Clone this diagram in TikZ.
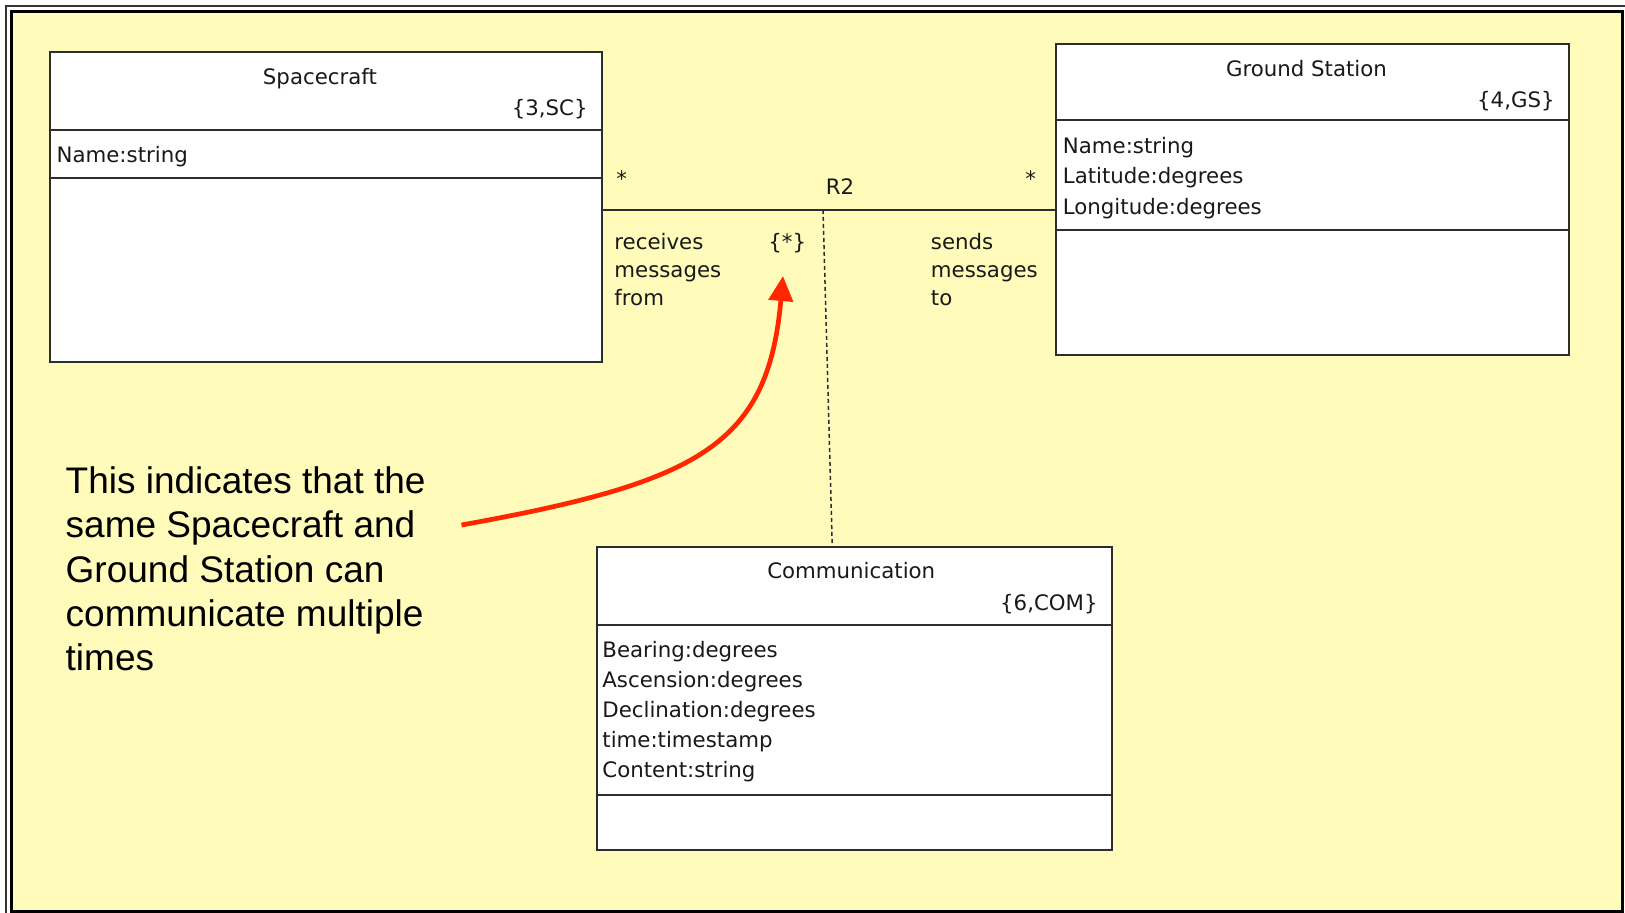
\documentclass[tikz,border=0pt]{standalone}
\usepackage{fontspec}
\setmainfont{DejaVu Sans}
\newfontfamily\notefont{Liberation Sans}
\usetikzlibrary{calc,arrows.meta}

\definecolor{paper}{RGB}{255,251,186}
\definecolor{boxline}{RGB}{45,45,45}
\definecolor{notered}{RGB}{255,38,0}

\tikzset{
  classbox/.style={rectangle, draw=boxline, line width=1pt, fill=white, inner sep=0pt},
  umltext/.style={inner sep=0pt, text=black!90, font=\fontsize{10.65}{15}\selectfont},
  classname/.style={umltext, anchor=base},
  keyletters/.style={umltext, anchor=base east},
  attr/.style={umltext, anchor=base west},
  sepline/.style={draw=boxline, line width=1pt},
  assocline/.style={draw=boxline, line width=1pt},
  linkline/.style={draw=boxline, line width=0.75pt, dash pattern=on 2pt off 1.5pt},
  notetext/.style={inner sep=0pt, align=left, font=\notefont\fontsize{18.5}{22.15}\selectfont},
  notearrow/.style={draw=notered, line width=2.35pt, -{Triangle[length=12.5pt,width=12pt]}}
}

\begin{document}
\begin{tikzpicture}[x=0.5pt, y=-0.5pt]
    \useasboundingbox (0,0) rectangle (1625,913);

    % Frame
    \draw[line width=1pt, black!80] (6,6) rectangle (1660,950);
    \fill[paper] (11.7,11.7) rectangle (1622.3,911.5);
    \draw[line width=1.65pt] (11.7,11.7) rectangle (1622.3,911.5);

    % Classes
    \node (sc) [classbox, minimum width=276.15pt, minimum height=154.85pt] at (325.9,206.9) {};
    \node (gs) [classbox, minimum width=256.5pt, minimum height=155.75pt] at (1312.5,199.75) {};
    \node (com) [classbox, minimum width=257.75pt, minimum height=151.75pt] at (854.25,698.25) {};

    % Compartments
    \draw[sepline] ($(sc.north west)+(0,79)$) -- ($(sc.north east)+(0,79)$);
    \draw[sepline] ($(sc.north west)+(0,127)$) -- ($(sc.north east)+(0,127)$);
    \draw[sepline] ($(gs.north west)+(0,77)$) -- ($(gs.north east)+(0,77)$);
    \draw[sepline] ($(gs.north west)+(0,187.5)$) -- ($(gs.north east)+(0,187.5)$);
    \draw[sepline] ($(com.north west)+(0,79.5)$) -- ($(com.north east)+(0,79.5)$);
    \draw[sepline] ($(com.north west)+(0,249.5)$) -- ($(com.north east)+(0,249.5)$);

    % Class headers
    \node (scname) [classname] at ($(sc.north)+(-6,33.3)$) {Spacecraft};
    \node (sckey) [keyletters] at ($(sc.north east)+(-15,64.5)$) {\{3,SC\}};
    \node (gsname) [classname] at ($(gs.north)+(-6,33.3)$) {Ground Station};
    \node (gskey) [keyletters] at ($(gs.north east)+(-15,64.5)$) {\{4,GS\}};
    \node (comname) [classname] at ($(com.north)+(-3,33.3)$) {Communication};
    \node (comkey) [keyletters] at ($(com.north east)+(-15,64.5)$) {\{6,COM\}};

    % Attributes
    \node (scattr1) [attr] at ($(sc.north west)+(7.5,111.3)$) {Name:string};
    \node (gsattr1) [attr] at ($(gs.north west)+(7.5,111)$) {Name:string};
    \node (gsattr2) [attr] at ($(gs.north west)+(7.5,141)$) {Latitude:degrees};
    \node (gsattr3) [attr] at ($(gs.north west)+(7.5,172)$) {Longitude:degrees};
    \node (comattr1) [attr] at ($(com.north west)+(6.5,111.8)$) {Bearing:degrees};
    \node (comattr2) [attr] at ($(com.north west)+(6.5,141.8)$) {Ascension:degrees};
    \node (comattr3) [attr] at ($(com.north west)+(6.5,171.8)$) {Declination:degrees};
    \node (comattr4) [attr] at ($(com.north west)+(6.5,201.8)$) {time:timestamp};
    \node (comattr5) [attr] at ($(com.north west)+(6.5,231.8)$) {Content:string};

    % Association R2
    \coordinate (assoc) at (0,210);
    \draw[assocline] (sc.east |- assoc) -- (gs.west |- assoc);
    \coordinate (lnk) at (823,210);
    \draw[linkline] (lnk) -- ($(com.north)+(-22,0)$);

    \node (scmult) [umltext, anchor=base] at (621.7,187) {*};
    \node (gsmult) [umltext, anchor=base] at (1030.7,187) {*};
    \node (r2) [umltext, anchor=base] at (840,195) {R2};
    \node (rcv1) [attr] at (614,250) {receives};
    \node (rcv2) [attr] at (614,278) {messages};
    \node (rcv3) [attr] at (614,306) {from};
    \node (snd1) [attr] at (930.5,250) {sends};
    \node (snd2) [attr] at (930.5,278) {messages};
    \node (snd3) [attr] at (930.5,306) {to};
    \node (linkmult) [umltext, anchor=base] at (787.3,250) {\{*\}};

    % Note
    \node (note) [notetext, anchor=north west] at (65.3,466.2) {This indicates that the\\same Spacecraft and\\Ground Station can\\communicate multiple\\times};
    \coordinate (arrowfrom) at (461.5,525);
    \coordinate (arrowto) at (783,276);
    \draw[notearrow] (arrowfrom) .. controls (700,482) and (768,445) .. (arrowto);

\end{tikzpicture}
\end{document}
